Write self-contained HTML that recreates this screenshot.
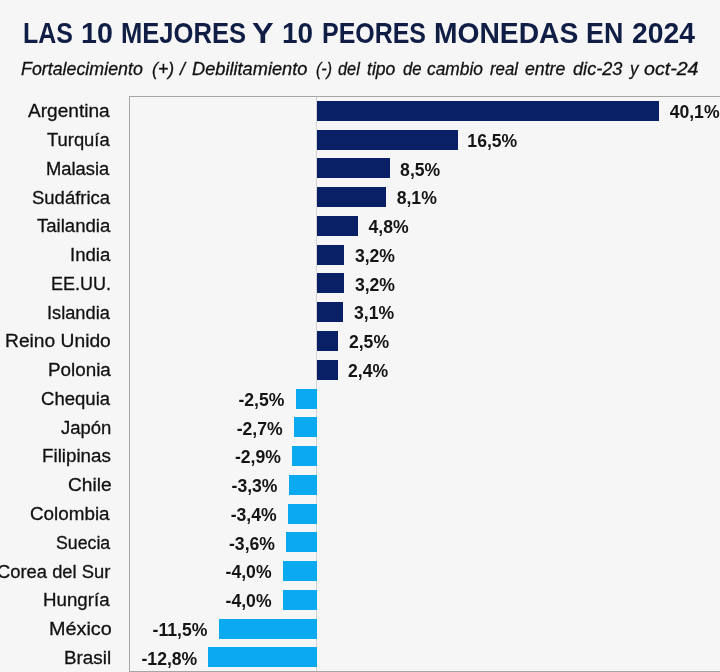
<!DOCTYPE html>
<html lang="es"><head><meta charset="utf-8"><title>Las 10 mejores y 10 peores monedas en 2024</title>
<style>
html,body{margin:0;padding:0}
body{width:720px;height:672px;overflow:hidden;background:#f6f6f6;position:relative;font-family:"Liberation Sans",sans-serif;color:#1a1a1a}
.abs{position:absolute;white-space:nowrap}
.w{position:absolute;top:0;white-space:nowrap;transform-origin:0 50%}
#title{left:0;top:17.3px;width:720px;height:32px}
.t{font-size:29.2px;line-height:32px;font-weight:bold;color:#101d45}
#sub{left:0;top:57.3px;width:720px;height:24px}
.s{font-size:18.6px;line-height:24px;font-style:italic;color:#111;-webkit-text-stroke:0.3px #111}
#plot{left:129px;top:96px;width:600px;height:574px;border:1px solid #a6a6a6;background:#f6f6f6}
#axis{left:316px;top:97px;width:1px;height:574px;background:#d4d4d4}
.lab{-webkit-text-stroke:0.3px #111;font-size:19.2px;line-height:24px;height:24px;color:#111;transform-origin:0 50%}
.bar{height:20px}
.pos{background:#0a2066}
.neg{background:#0baaf0}
.val{font-size:17.6px;line-height:24px;height:24px;font-weight:bold;color:#151515;transform-origin:0 50%}

</style></head><body>
<div id="title" class="abs"><span class="w t" style="left:23.29px;transform:scaleX(0.8545)">LAS</span> <span class="w t" style="left:81.34px;transform:scaleX(0.9793)">10</span> <span class="w t" style="left:120.55px;transform:scaleX(0.8764)">MEJORES</span> <span class="w t" style="left:252.19px;transform:scaleX(1.1111)">Y</span> <span class="w t" style="left:282.09px;transform:scaleX(0.9552)">10</span> <span class="w t" style="left:321.59px;transform:scaleX(0.8546)">PEORES</span> <span class="w t" style="left:433.87px;transform:scaleX(0.9671)">MONEDAS</span> <span class="w t" style="left:586.16px;transform:scaleX(0.9189)">EN</span> <span class="w t" style="left:631.53px;transform:scaleX(0.9688)">2024</span></div>
<div id="sub" class="abs"><span class="w s" style="left:21.00px;transform:scaleX(0.9583)">Fortalecimiento</span> <span class="w s" style="left:151.70px;transform:scaleX(0.9545)">(+)</span> <span class="w s" style="left:179.96px;transform:scaleX(0.9625)">/</span> <span class="w s" style="left:192.00px;transform:scaleX(0.9797)">Debilitamiento</span> <span class="w s" style="left:316.30px;transform:scaleX(0.8611)">(-)</span> <span class="w s" style="left:337.80px;transform:scaleX(0.8769)">del</span> <span class="w s" style="left:367.30px;transform:scaleX(0.9467)">tipo</span> <span class="w s" style="left:403.00px;transform:scaleX(0.9000)">de</span> <span class="w s" style="left:426.50px;transform:scaleX(0.9333)">cambio</span> <span class="w s" style="left:490.00px;transform:scaleX(0.9062)">real</span> <span class="w s" style="left:525.00px;transform:scaleX(0.9524)">entre</span> <span class="w s" style="left:572.70px;transform:scaleX(0.9765)">dic-23</span> <span class="w s" style="left:629.91px;transform:scaleX(0.9091)">y</span> <span class="w s" style="left:643.70px;transform:scaleX(1.0549)">oct-24</span></div>
<div id="plot" class="abs"></div>
<div id="axis" class="abs"></div>
<div class="abs lab" style="top:99.20px;left:28.00px;transform:scaleX(0.9940)">Argentina</div>
<div class="abs bar pos" style="left:317.0px;top:100.80px;width:342.1px"></div>
<div class="abs val" style="top:100.10px;left:669.65px;transform:scaleX(1.0000)">40,1%</div>
<div class="abs lab" style="top:127.97px;left:47.30px;transform:scaleX(0.9576)">Turquía</div>
<div class="abs bar pos" style="left:317.0px;top:129.57px;width:140.7px"></div>
<div class="abs val" style="top:128.87px;left:467.35px;transform:scaleX(1.0000)">16,5%</div>
<div class="abs lab" style="top:156.74px;left:46.34px;transform:scaleX(0.9576)">Malasia</div>
<div class="abs bar pos" style="left:317.0px;top:158.34px;width:72.5px"></div>
<div class="abs val" style="top:157.64px;left:400.11px;transform:scaleX(1.0000)">8,5%</div>
<div class="abs lab" style="top:185.51px;left:31.54px;transform:scaleX(0.9630)">Sudáfrica</div>
<div class="abs bar pos" style="left:317.0px;top:187.11px;width:69.1px"></div>
<div class="abs val" style="top:186.41px;left:396.69px;transform:scaleX(1.0000)">8,1%</div>
<div class="abs lab" style="top:214.28px;left:37.00px;transform:scaleX(0.9671)">Tailandia</div>
<div class="abs bar pos" style="left:317.0px;top:215.88px;width:40.9px"></div>
<div class="abs val" style="top:215.18px;left:368.54px;transform:scaleX(1.0000)">4,8%</div>
<div class="abs lab" style="top:243.05px;left:69.83px;transform:scaleX(0.9683)">India</div>
<div class="abs bar pos" style="left:317.0px;top:244.65px;width:27.3px"></div>
<div class="abs val" style="top:243.95px;left:354.90px;transform:scaleX(1.0000)">3,2%</div>
<div class="abs lab" style="top:271.82px;left:51.36px;transform:scaleX(0.9387)">EE.UU.</div>
<div class="abs bar pos" style="left:317.0px;top:273.42px;width:27.3px"></div>
<div class="abs val" style="top:272.72px;left:354.90px;transform:scaleX(1.0000)">3,2%</div>
<div class="abs lab" style="top:300.59px;left:46.85px;transform:scaleX(0.9500)">Islandia</div>
<div class="abs bar pos" style="left:317.0px;top:302.19px;width:26.4px"></div>
<div class="abs val" style="top:301.49px;left:354.04px;transform:scaleX(1.0000)">3,1%</div>
<div class="abs lab" style="top:329.36px;left:5.30px;transform:scaleX(1.0019)">Reino Unido</div>
<div class="abs bar pos" style="left:317.0px;top:330.96px;width:21.3px"></div>
<div class="abs val" style="top:330.26px;left:348.93px;transform:scaleX(1.0000)">2,5%</div>
<div class="abs lab" style="top:358.13px;left:47.72px;transform:scaleX(0.9810)">Polonia</div>
<div class="abs bar pos" style="left:317.0px;top:359.73px;width:20.5px"></div>
<div class="abs val" style="top:359.03px;left:348.07px;transform:scaleX(1.0000)">2,4%</div>
<div class="abs lab" style="top:386.90px;left:40.93px;transform:scaleX(0.9662)">Chequia</div>
<div class="abs bar neg" style="left:295.7px;top:388.50px;width:21.3px"></div>
<div class="abs val" style="top:387.80px;left:238.38px;transform:scaleX(1.0000)">-2,5%</div>
<div class="abs lab" style="top:415.67px;left:61.40px;transform:scaleX(0.9627)">Japón</div>
<div class="abs bar neg" style="left:294.0px;top:417.27px;width:23.0px"></div>
<div class="abs val" style="top:416.57px;left:236.67px;transform:scaleX(1.0000)">-2,7%</div>
<div class="abs lab" style="top:444.44px;left:42.02px;transform:scaleX(0.9783)">Filipinas</div>
<div class="abs bar neg" style="left:292.3px;top:446.04px;width:24.7px"></div>
<div class="abs val" style="top:445.34px;left:234.96px;transform:scaleX(1.0000)">-2,9%</div>
<div class="abs lab" style="top:473.21px;left:67.60px;transform:scaleX(0.9976)">Chile</div>
<div class="abs bar neg" style="left:288.9px;top:474.81px;width:28.1px"></div>
<div class="abs val" style="top:474.11px;left:231.55px;transform:scaleX(1.0000)">-3,3%</div>
<div class="abs lab" style="top:501.98px;left:30.02px;transform:scaleX(0.9815)">Colombia</div>
<div class="abs bar neg" style="left:288.0px;top:503.58px;width:29.0px"></div>
<div class="abs val" style="top:502.88px;left:230.70px;transform:scaleX(1.0000)">-3,4%</div>
<div class="abs lab" style="top:530.75px;left:55.98px;transform:scaleX(0.9241)">Suecia</div>
<div class="abs bar neg" style="left:286.3px;top:532.35px;width:30.7px"></div>
<div class="abs val" style="top:531.65px;left:228.99px;transform:scaleX(1.0000)">-3,6%</div>
<div class="abs lab" style="top:559.52px;left:-3.46px;transform:scaleX(0.9576)">Corea del Sur</div>
<div class="abs bar neg" style="left:282.9px;top:561.12px;width:34.1px"></div>
<div class="abs val" style="top:560.42px;left:225.58px;transform:scaleX(1.0000)">-4,0%</div>
<div class="abs lab" style="top:588.29px;left:43.23px;transform:scaleX(0.9750)">Hungría</div>
<div class="abs bar neg" style="left:282.9px;top:589.89px;width:34.1px"></div>
<div class="abs val" style="top:589.19px;left:225.58px;transform:scaleX(1.0000)">-4,0%</div>
<div class="abs lab" style="top:617.06px;left:48.57px;transform:scaleX(1.0322)">México</div>
<div class="abs bar neg" style="left:218.9px;top:618.66px;width:98.1px"></div>
<div class="abs val" style="top:617.96px;left:152.60px;transform:scaleX(1.0000)">-11,5%</div>
<div class="abs lab" style="top:645.83px;left:64.32px;transform:scaleX(0.9826)">Brasil</div>
<div class="abs bar neg" style="left:207.8px;top:647.43px;width:109.2px"></div>
<div class="abs val" style="top:646.73px;left:141.52px;transform:scaleX(1.0000)">-12,8%</div>
</body></html>
